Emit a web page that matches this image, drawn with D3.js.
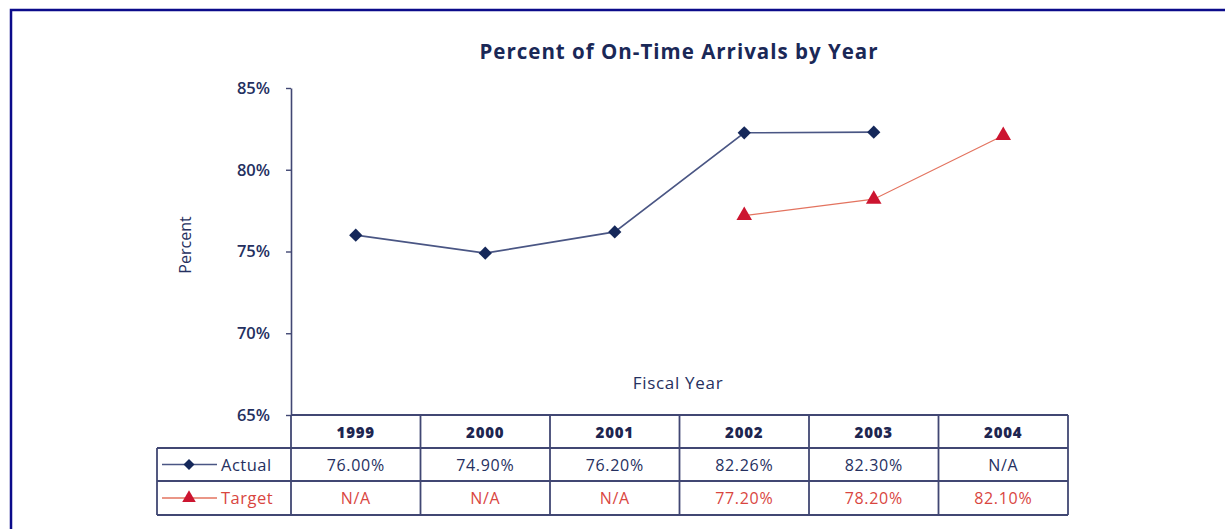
<!DOCTYPE html>
<html>
<head>
<meta charset="utf-8">
<script src="https://cdn.jsdelivr.net/npm/d3@7"></script>
<style>
  html, body { margin: 0; padding: 0; background: #fff; }
  svg { display: block; }
  text { font-family: "Open Sans", Lato, sans-serif; }
</style>
</head>
<body>
<svg id="chart" width="1225" height="529"></svg>
<script>
// On-time arrival percentages by fiscal year
const years = ["1999", "2000", "2001", "2002", "2003", "2004"];
const actual = [76.00, 74.90, 76.20, 82.26, 82.30, null];
const target = [null, null, null, 77.20, 78.20, 82.10];
const yTicks = [65, 70, 75, 80, 85];
const seriesNames = ["Actual", "Target"];

const navy = "#15285a";
const ink = "#25305f";
const gridInk = "#414773";
const red = "#cc1530";
const redText = "#d9463f";

const svg = d3.select("#chart");

// page frame
svg.append("path")
  .attr("d", "M11,529 V10 H1225")
  .attr("fill", "none").attr("stroke", "#0b0b8a").attr("stroke-width", 2.5);

const plotLeft = 291, plotRight = 1068, plotTop = 88, plotBase = 415;
const rowH = [33, 33, 34];

const x = d3.scaleBand().domain(years).range([plotLeft, plotRight]);
const y = d3.scaleLinear().domain([65, 85]).range([plotBase, plotTop]);

// title
svg.append("text")
  .attr("x", 679).attr("y", 59)
  .attr("text-anchor", "middle")
  .attr("font-size", 20.5).attr("font-weight", 700)
  .attr("letter-spacing", 1)
  .attr("fill", "#1a2857")
  .text("Percent of On-Time Arrivals by Year");

// y axis
const yAxis = svg.append("g")
  .attr("transform", `translate(${plotLeft},0)`)
  .call(d3.axisLeft(y).tickValues(yTicks).tickSize(5).tickSizeOuter(0).tickPadding(16)
    .tickFormat(d => d + "%"));
yAxis.select(".domain").attr("stroke", gridInk).attr("stroke-width", 1.6);
yAxis.selectAll(".tick line").attr("stroke", gridInk).attr("stroke-width", 1.4);
yAxis.selectAll(".tick text")
  .attr("font-size", 16.5).attr("font-weight", 600).attr("fill", ink)
  .attr("font-family", "'Open Sans', Lato, sans-serif");

// axis titles
svg.append("text")
  .attr("transform", "translate(191,245) rotate(-90)")
  .attr("text-anchor", "middle")
  .attr("font-size", 16).attr("fill", ink)
  .text("Percent");
svg.append("text")
  .attr("x", 678).attr("y", 389)
  .attr("text-anchor", "middle")
  .attr("font-size", 17).attr("letter-spacing", 0.7).attr("fill", ink)
  .text("Fiscal Year");

// data table
const r0 = plotBase, r1 = r0 + rowH[0], r2 = r1 + rowH[1], r3 = r2 + rowH[2];
const legendLeft = 157;
const table = svg.append("g").attr("stroke", gridInk).attr("stroke-width", 1.8).attr("fill", "none");
table.append("line").attr("x1", plotLeft).attr("x2", plotRight).attr("y1", r0).attr("y2", r0);
table.append("line").attr("x1", plotLeft).attr("x2", plotRight).attr("y1", r1).attr("y2", r1);
table.append("line").attr("x1", legendLeft).attr("x2", plotLeft).attr("y1", r1).attr("y2", r1);
table.append("line").attr("x1", legendLeft).attr("x2", plotRight).attr("y1", r2).attr("y2", r2);
table.append("line").attr("x1", legendLeft).attr("x2", plotRight).attr("y1", r3).attr("y2", r3);
table.append("line").attr("x1", legendLeft).attr("x2", legendLeft).attr("y1", r1).attr("y2", r3);
table.append("line").attr("x1", plotLeft).attr("x2", plotLeft).attr("y1", r0).attr("y2", r3);
years.forEach(yr => {
  const xe = x(yr) + x.bandwidth();
  table.append("line").attr("x1", xe).attr("x2", xe).attr("y1", r0).attr("y2", r3);
});

const cx = d => x(d) + x.bandwidth() / 2;
const fmt = v => v == null ? "N/A" : v.toFixed(2) + "%";

svg.append("g").selectAll("text").data(years).join("text")
  .attr("x", cx).attr("y", (r0 + r1) / 2 + 6)
  .attr("text-anchor", "middle").attr("font-size", 15).attr("font-weight", 800)
  .attr("letter-spacing", 0.8)
  .attr("fill", "#1d2550").text(d => d);

svg.append("g").selectAll("text").data(years).join("text")
  .attr("x", cx).attr("y", (r1 + r2) / 2 + 6)
  .attr("text-anchor", "middle").attr("font-size", 16).attr("letter-spacing", 0.7)
  .attr("fill", ink).text((d, i) => fmt(actual[i]));

svg.append("g").selectAll("text").data(years).join("text")
  .attr("x", cx).attr("y", (r2 + r3) / 2 + 6)
  .attr("text-anchor", "middle").attr("font-size", 16).attr("letter-spacing", 0.7)
  .attr("fill", redText).text((d, i) => fmt(target[i]));

// lines and markers
function drawSeries(vals, lineColor, lineWidth, markColor, sym, rotate) {
  const pts = years.map((yr, i) => ({ yr, v: vals[i] })).filter(p => p.v != null);
  svg.append("path")
    .datum(pts)
    .attr("fill", "none").attr("stroke", lineColor).attr("stroke-width", lineWidth)
    .attr("d", d3.line().x(p => cx(p.yr)).y(p => y(p.v)));
  svg.append("g").selectAll("path").data(pts).join("path")
    .attr("transform", p => `translate(${cx(p.yr)},${y(p.v)}) rotate(${rotate})`)
    .attr("d", sym).attr("fill", markColor);
}
drawSeries(actual, "#4a5684", 1.6, navy, d3.symbol().type(d3.symbolSquare).size(88), 45);
drawSeries(target, "#e3735f", 1.2, red, d3.symbol().type(d3.symbolTriangle).size(105), 0);

// legend entries inside the table's first column
const legendRows = [
  { name: seriesNames[0], yc: (r1 + r2) / 2, line: "#4a5684", mark: navy, sym: d3.symbol().type(d3.symbolSquare).size(60), rot: 45, text: ink },
  { name: seriesNames[1], yc: (r2 + r3) / 2, line: "#e3735f", mark: red, sym: d3.symbol().type(d3.symbolTriangle).size(80), rot: 0, text: redText }
];
legendRows.forEach(r => {
  svg.append("line").attr("x1", 162).attr("x2", 217).attr("y1", r.yc).attr("y2", r.yc)
    .attr("stroke", r.line).attr("stroke-width", 1.4);
  svg.append("path").attr("transform", `translate(189,${r.yc}) rotate(${r.rot})`)
    .attr("d", r.sym).attr("fill", r.mark);
  svg.append("text").attr("x", 221).attr("y", r.yc + 6)
    .attr("font-size", 16.5).attr("letter-spacing", 0.5).attr("fill", r.text).text(r.name);
});
</script>
</body>
</html>
